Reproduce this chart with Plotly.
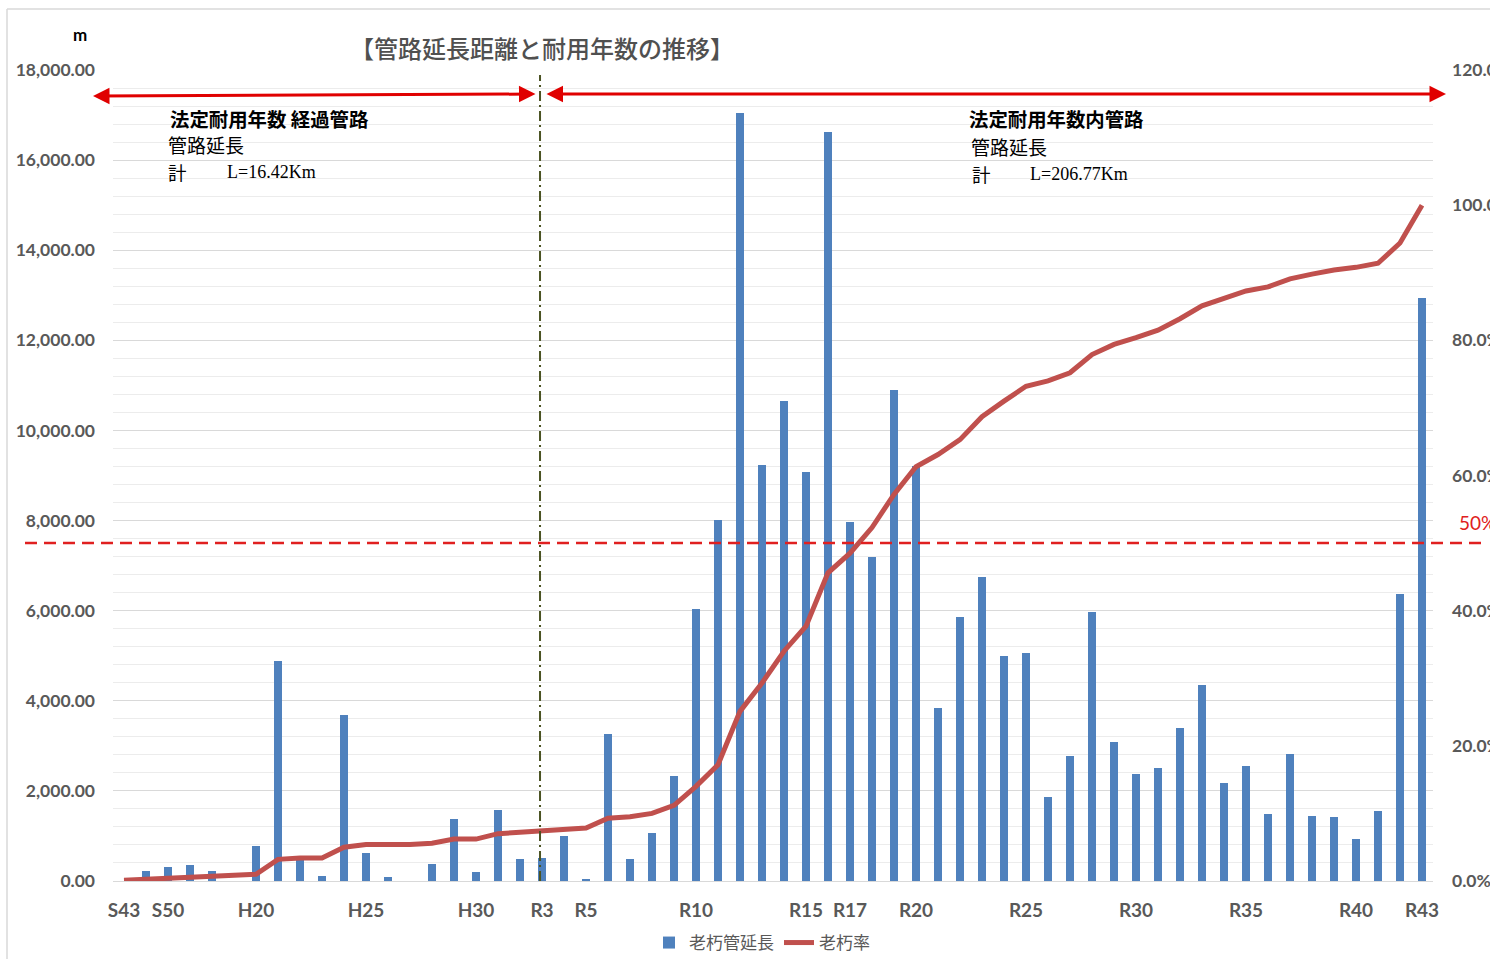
import plotly.graph_objects as go

# Fiscal-year categories (only the labelled years are shown on the axis)
year_labels = [
    "S43", "", "S50", "", "", "", "H20", "", "", "", "", "H25", "", "", "", "",
    "H30", "", "", "R3", "", "R5", "", "", "", "", "R10", "", "", "", "", "R15",
    "", "R17", "", "", "R20", "", "", "", "", "R25", "", "", "", "", "R30", "",
    "", "", "", "R35", "", "", "", "", "R40", "", "", "R43",
]

# 老朽管延長 (m)
pipe_length = [
    0, 230, 304, 348, 229, 0, 770, 4876, 466, 104,
    3677, 614, 89, 0, 385, 1376, 192, 1569, 481, 503,
    999, 38, 3269, 481, 1065, 2337, 6036, 8012, 17044, 9232,
    10652, 9077, 16622, 7967, 7190, 10897, 9210, 3833, 5859, 6747,
    4993, 5053, 1857, 2781, 5970, 3078, 2375, 2501, 3403, 4357,
    2168, 2559, 1487, 2818, 1450, 1427, 925, 1547, 6369, 12938,
]

# 老朽率 (%)
aging_rate = [
    0.1, 0.25, 0.35, 0.55, 0.65, 0.7, 1.0, 3.2, 3.4, 3.4,
    5.0, 5.4, 5.4, 5.4, 5.6, 6.2, 6.2, 7.0, 7.2, 7.45,
    7.75, 7.85, 9.3, 9.5, 10.0, 11.2, 14.0, 17.2, 25.1, 29.3,
    34.0, 37.7, 45.6, 48.5, 52.3, 57.2, 61.3, 63.1, 65.3, 68.7,
    71.0, 73.2, 74.0, 75.2, 77.9, 79.4, 80.4, 81.5, 83.2, 85.1,
    86.2, 87.3, 87.9, 89.1, 89.8, 90.4, 90.8, 91.4, 94.4, 100.0,
]

threshold_pct = 50
length_max = 18000
pct_max = 120
boundary_year = "R3"

x_idx = list(range(len(year_labels)))
tick_vals = [i for i, lab in enumerate(year_labels) if lab]
tick_text = [lab for lab in year_labels if lab]
boundary_x = year_labels.index(boundary_year) - 0.09

W, H = 1490, 959
ML, MR, MT, MB = 113, 57, 70, 78
PW, PH = W - ML - MR, H - MT - MB


def px_x(px):
    return (px - ML) / PW


def px_y(py):
    return (H - MB - py) / PH


BLUE = "#4f81bd"
RED_LINE = "#c0504d"
ARROW_RED = "#e00000"
GREY_TXT = "#595959"
CJK = "Noto Sans CJK JP"
NUM = "Lato, Noto Sans CJK JP"

fig = go.Figure()
fig.add_trace(go.Bar(
    x=x_idx, y=pipe_length, name="老朽管延長",
    marker=dict(color=BLUE, line=dict(width=0)), width=0.32,
))
fig.add_trace(go.Scatter(
    x=x_idx, y=aging_rate, name="老朽率", yaxis="y2", mode="lines",
    line=dict(color=RED_LINE, width=5),
))

fig.update_layout(
    width=W, height=H, template="none",
    paper_bgcolor="white", plot_bgcolor="white",
    margin=dict(l=ML, r=MR, t=MT, b=MB, autoexpand=False),
    bargap=0,
    showlegend=True,
    legend=dict(
        orientation="h", x=px_x(762), y=px_y(943), xanchor="center", yanchor="middle",
        font=dict(family=CJK, size=17, color=GREY_TXT), bgcolor="rgba(0,0,0,0)",
        itemwidth=30, tracegroupgap=0,
    ),
    xaxis=dict(
        range=[-0.5, len(year_labels) - 0.5], tickmode="array",
        tickvals=tick_vals, ticktext=tick_text, showgrid=False,
        showline=True, linecolor="#d9d9d9", linewidth=1, ticks="",
        tickfont=dict(family=NUM, size=19, color=GREY_TXT, weight="bold"),
        ticklabelstandoff=12, zeroline=False, automargin=False,
    ),
    yaxis=dict(
        range=[0, length_max], dtick=2000, tickformat=",.2f",
        showgrid=True, gridcolor="#d9d9d9", gridwidth=1,
        minor=dict(dtick=400, showgrid=True, gridcolor="#ececec", gridwidth=1),
        zeroline=False, showline=False, ticks="",
        tickfont=dict(family=NUM, size=17.5, color=GREY_TXT, weight="bold"),
        ticklabelstandoff=17, automargin=False,
    ),
    yaxis2=dict(
        range=[0, pct_max], dtick=20, tickformat=".1f", ticksuffix="%",
        overlaying="y", side="right", showgrid=False, zeroline=False,
        showline=False, ticks="",
        tickfont=dict(family=NUM, size=17.5, color=GREY_TXT, weight="bold"),
        ticklabelstandoff=18, automargin=False,
    ),
)

shapes = [
    # outer frame edges
    dict(type="line", xref="paper", yref="paper", x0=px_x(7), x1=px_x(7),
         y0=px_y(9), y1=px_y(H + 5), line=dict(color="#d9d9d9", width=1.5)),
    dict(type="line", xref="paper", yref="paper", x0=px_x(7), x1=px_x(W + 5),
         y0=px_y(9), y1=px_y(9), line=dict(color="#d9d9d9", width=1.5)),
    # boundary between expired / in-service pipes
    dict(type="line", xref="x", yref="paper", x0=boundary_x, x1=boundary_x,
         y0=0, y1=px_y(75), layer="above",
         line=dict(color="#4b5323", width=2, dash="10px,4px,2px,4px")),
    # 50% threshold
    dict(type="line", xref="paper", yref="paper", x0=px_x(25), x1=px_x(1485),
         y0=threshold_pct / pct_max, y1=threshold_pct / pct_max, layer="above",
         line=dict(color="#e02020", width=2.5, dash="12px,7px")),
]
fig.update_layout(shapes=shapes)


def arrow(x_from, x_to, y_from, y_to):
    return dict(
        xref="x domain", yref="y domain", axref="x domain", ayref="y domain",
        x=x_to, y=y_to, ax=x_from, ay=y_from, text="", showarrow=True,
        arrowside="end+start", arrowhead=2, startarrowhead=2,
        arrowsize=1.1, startarrowsize=1.1, arrowwidth=3, arrowcolor=ARROW_RED,
        standoff=0, startstandoff=0,
    )


def label(text, px, py, size, bold=False, color="black", family=CJK, anchor="left",
          weight=None):
    return dict(
        xref="paper", yref="paper", x=px_x(px), y=px_y(py), text=text,
        showarrow=False, xanchor=anchor, yanchor="middle",
        font=dict(family=family, size=size, color=color,
                  weight=weight if weight else ("bold" if bold else "normal")),
    )


SERIF = "Liberation Serif, DejaVu Serif"
annotations = [
    arrow(px_x(537), px_x(93), px_y(94), px_y(96)),
    arrow(px_x(545), px_x(1446), px_y(94), px_y(94)),
    label("【管路延長距離と耐用年数の推移】", 542, 48, 24, color="#505050",
          anchor="center", weight=500),
    label("m", 80, 35, 17, bold=True, color="black", family=NUM, anchor="center"),
    label("法定耐用年数 経過管路", 168, 119, 19.4, bold=True),
    label("管路延長", 166, 145, 19),
    label("計", 166, 172, 18.5),
    label("L=16.42Km", 225, 172, 18, family=SERIF),
    label("法定耐用年数内管路", 967, 118, 19.4, bold=True),
    label("管路延長", 969, 146, 19),
    label("計", 970, 174, 18.5),
    label("L=206.77Km", 1028, 174, 18, family=SERIF),
    label("50%", 1457, 522, 19, color="#e02020", family=NUM),
]
fig.update_layout(annotations=annotations)

fig.write_html("out.html")
